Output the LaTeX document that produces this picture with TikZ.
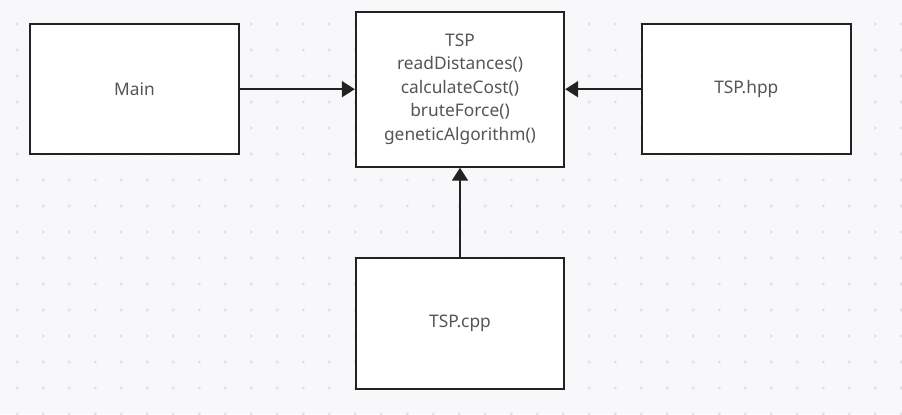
\documentclass[tikz,border=0pt]{standalone}
\usepackage{fontspec}
\setmainfont{Noto Sans}
\usetikzlibrary{arrows.meta}
\definecolor{bgcol}{HTML}{F8F8FA}
\definecolor{dotcol}{HTML}{E0E0E4}
\definecolor{edgecol}{HTML}{222222}
\definecolor{textcol}{HTML}{555555}
\tikzset{
  unitbox/.style={draw=edgecol, line width=1.5pt, fill=white, text=textcol,
    font=\fontsize{13}{17.6}\selectfont, align=center,
    minimum width=156.3pt, minimum height=97.8pt, inner sep=0pt},
  conn/.style={draw=edgecol, line width=1.5pt,
    -{Triangle[length=9.75pt,width=12pt]}}
}
\begin{document}
\begin{tikzpicture}[x=0.75pt,y=-0.75pt]
        % Background with the dot grid
        \fill[bgcol] (0,0) rectangle (902,414);
        \useasboundingbox (0,0) rectangle (902,414);
        \begin{scope}
          \clip (0,0) rectangle (902,414);
          \foreach \i in {0,...,34}
            \foreach \j in {0,...,16}
              \fill[dotcol] (17.3+26*\i, -2+26*\j) circle (1.2pt);
        \end{scope}

        % Draw the boxes
        \node[unitbox] (main) at (134.5,89.2) {Main};
        \node[unitbox, minimum height=116.3pt] (tsp) at (460,89.2)
          {TSP\\readDistances()\\calculateCost()\\bruteForce()\\geneticAlgorithm()};
        \node[unitbox] (hpp) at (746.3,89.2) {TSP.hpp};
        \node[unitbox] (cpp) at (460,323.6) {TSP.cpp};

        % Draw the connections into TSP
        \draw[conn] (main) -- (tsp);
        \draw[conn] (hpp) -- (tsp);
        \draw[conn] (cpp) -- (tsp);
\end{tikzpicture}
\end{document}
